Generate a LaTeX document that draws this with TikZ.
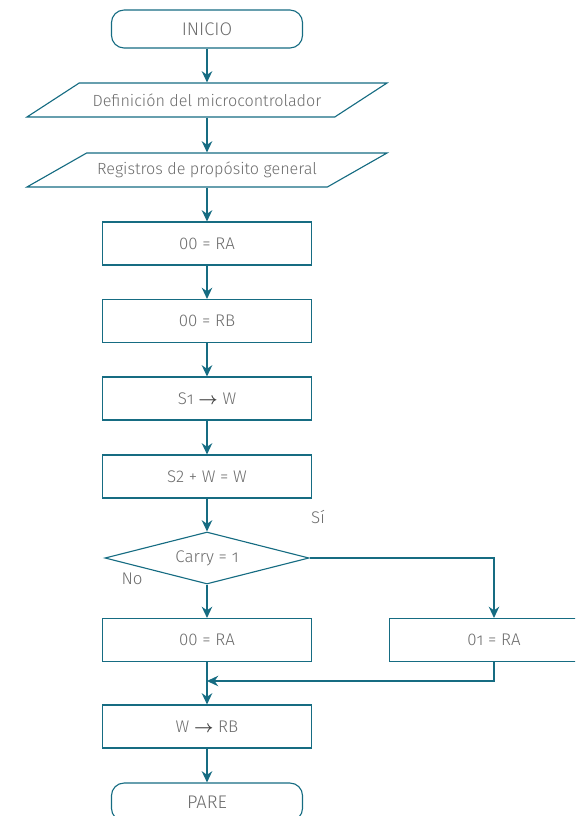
\documentclass[tikz,border=0pt]{standalone}
\usepackage{fontspec}
\usepackage{amsmath}
\setmainfont{Fira Sans Light}
\usetikzlibrary{shapes.geometric,arrows.meta}
\definecolor{azul}{RGB}{22,108,130}
\definecolor{gris}{RGB}{108,108,108}
\definecolor{flechatxt}{RGB}{60,60,60}
\newcommand{\uno}{{\addfontfeature{Numbers=OldStyle}1}}
\newcommand{\flechita}{\textcolor{flechatxt}{$\boldsymbol{\rightarrow}$}}

\begin{document}
\begin{tikzpicture}[x=0.025cm,y=-0.025cm,
  every node/.style={text=gris,font=\fontsize{12}{14}\selectfont},
  terminal/.style={draw=azul,line width=0.8pt,rounded corners=9pt,minimum width=4.775cm,minimum height=0.95cm,font=\fontsize{13}{15}\selectfont},
  proceso/.style={draw=azul,line width=0.8pt,minimum width=5.225cm,minimum height=1.075cm},
  datos/.style={draw=azul,line width=0.8pt,trapezium,trapezium left angle=23,trapezium right angle=157,trapezium stretches body,minimum width=9cm,minimum height=0.85cm,font=\fontsize{11.5}{14}\selectfont},
  decision/.style={draw=azul,line width=0.8pt,diamond,inner sep=0pt,shape aspect=4,minimum width=5.1cm,minimum height=1.3cm},
  flecha/.style={draw=azul,line width=0.8pt,-{Stealth[length=8pt,width=7.5pt]}}]
  \useasboundingbox (0,0) rectangle (575,816);
  \clip (0,0) rectangle (575,816);
  \node[terminal] (inicio) at (207,29) {INICIO};
  \node[datos] (micro) at (207,100) {\makebox[0pt]{Definición del microcontrolador}};
  \node[datos] (regs) at (207,170) {\makebox[0pt]{Registros de propósito general}};
  \node[proceso] (ra) at (207,243.5) {00 = RA};
  \node[proceso] (rb) at (207,321) {00 = RB};
  \node[proceso] (sw) at (207,398.5) {S\uno\ \flechita\ W};
  \node[proceso] (suma) at (207,476.5) {S2 + W = W};
  \node[decision] (carry) at (207,558) {Carry = \uno};
  \node (si) at (318,517) {Sí};
  \node (no) at (132,579) {No};
  \node[proceso] (ra0) at (207,640) {00 = RA};
  \node[proceso] (ra1) at (494,640) {0\uno\ = RA};
  \node[proceso] (wrb) at (207,726.5) {W \flechita\ RB};
  \node[terminal] (pare) at (207,802) {PARE};
  \coordinate (junta) at (207,681);
  \draw[flecha] (inicio) -- (micro);
  \draw[flecha] (micro) -- (regs);
  \draw[flecha] (regs) -- (ra);
  \draw[flecha] (ra) -- (rb);
  \draw[flecha] (rb) -- (sw);
  \draw[flecha] (sw) -- (suma);
  \draw[flecha] (suma) -- (carry);
  \draw[flecha] (carry) -| (ra1);
  \draw[flecha] (carry) -- (ra0);
  \draw[flecha] (ra0) -- (wrb);
  \draw[flecha] (ra1) |- (junta);
  \draw[flecha] (wrb) -- (pare);
\end{tikzpicture}
\end{document}
